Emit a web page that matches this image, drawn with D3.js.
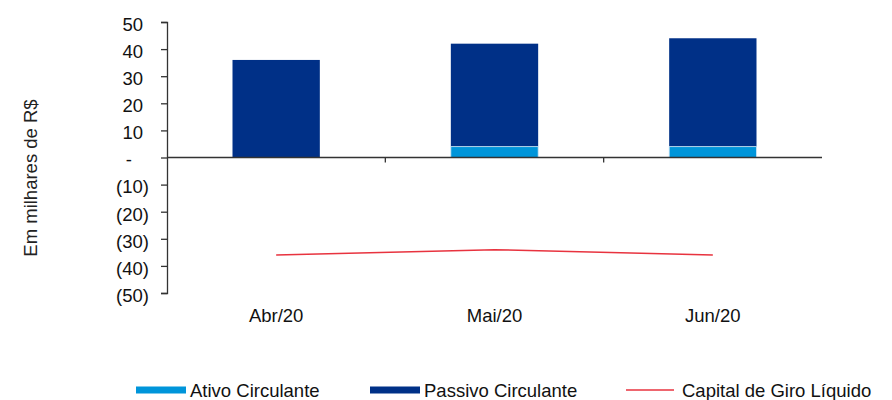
<!DOCTYPE html>
<html>
<head>
<meta charset="utf-8">
<script src="https://cdn.jsdelivr.net/npm/d3@7"></script>
<style>
  body { margin: 0; background: #fff; }
  svg { font-family: "Liberation Sans", Arial, sans-serif; }
</style>
</head>
<body>
<div id="chart"></div>
<script>
// data (R$ mil)
const months = ["Abr/20", "Mai/20", "Jun/20"];
const ativo = [0, 4, 4];
const passivo = [36, 38, 40];
const capitalGiro = [-36, -34, -36];
const yTicks = [50, 40, 30, 20, 10, 0, -10, -20, -30, -40, -50];

const W = 892, H = 400;
const svg = d3.select("#chart").append("svg")
    .attr("width", W)
    .attr("height", H);

const x = d3.scaleBand().domain(months).range([167, 822]).padding(0);
const y = d3.scaleLinear().domain([-50, 50]).range([293, 22]);

const barW = x.bandwidth() * 0.4;

// y axis (accounting style labels)
const yAxis = svg.append("g")
    .attr("transform", "translate(167,0)")
    .call(d3.axisLeft(y).tickValues(yTicks).tickSize(6).tickPadding(9)
        .tickFormat(d => d === 0 ? "-" : d < 0 ? `(${-d})` : d));
yAxis.select(".domain").attr("stroke", "#333").attr("stroke-width", 1.3);
yAxis.selectAll(".tick line").attr("stroke", "#333").attr("stroke-width", 1.3);
yAxis.selectAll("text")
    .style("font-size", "18.5px")
    .attr("fill", "#111")
    .attr("dy", "0.45em")
    .attr("dx", d => d === 0 ? -20 : d < 0 ? -3 : -9);

// x axis at zero, ticks at band boundaries
const xg = svg.append("g").attr("transform", `translate(0,${y(0)})`);
xg.selectAll(".xtick").data(months.slice(1)).enter().append("line")
    .attr("x1", d => x(d)).attr("x2", d => x(d))
    .attr("y1", 0).attr("y2", 5)
    .attr("stroke", "#333").attr("stroke-width", 1.3);

svg.selectAll(".xlab").data(months).enter().append("text")
    .attr("x", d => x(d) + x.bandwidth() / 2)
    .attr("y", 322)
    .attr("text-anchor", "middle")
    .style("font-size", "18.5px")
    .attr("fill", "#111")
    .text(d => d);

// stacked bars
const rows = months.map((m, i) => ({ m, a: ativo[i], p: passivo[i] }));

svg.selectAll(".passivo").data(rows).enter().append("rect")
    .attr("x", d => x(d.m) + (x.bandwidth() - barW) / 2)
    .attr("width", barW)
    .attr("y", d => y(d.a + d.p))
    .attr("height", d => y(d.a) - y(d.a + d.p))
    .attr("fill", "#003087");

svg.selectAll(".ativo").data(rows.filter(d => d.a > 0)).enter().append("rect")
    .attr("x", d => x(d.m) + (x.bandwidth() - barW) / 2)
    .attr("width", barW)
    .attr("y", d => y(d.a))
    .attr("height", d => y(0) - y(d.a))
    .attr("fill", "#0095DA")
    .attr("stroke", "#cfe6f5")
    .attr("stroke-width", 0.8);

// zero line above bars
svg.append("line")
    .attr("x1", 167).attr("x2", 822)
    .attr("y1", y(0)).attr("y2", y(0))
    .attr("stroke", "#333").attr("stroke-width", 1.3);

// capital de giro line
const line = d3.line()
    .x((d, i) => x(months[i]) + x.bandwidth() / 2)
    .y(d => y(d));
svg.append("path")
    .datum(capitalGiro)
    .attr("d", line)
    .attr("fill", "none")
    .attr("stroke", "#E8333F")
    .attr("stroke-width", 1.5);

// y title
svg.append("text")
    .attr("transform", "translate(37,178) rotate(-90)")
    .attr("text-anchor", "middle")
    .style("font-size", "18.5px")
    .attr("fill", "#222")
    .text("Em milhares de R$");

// legend
const legend = [
    { name: "Ativo Circulante", color: "#0095DA", type: "rect", x: 136 },
    { name: "Passivo Circulante", color: "#003087", type: "rect", x: 370 },
    { name: "Capital de Giro Líquido", color: "#E8333F", type: "line", x: 626 }
];
const lg = svg.selectAll(".lg").data(legend).enter().append("g")
    .attr("transform", d => `translate(${d.x},390)`);
lg.filter(d => d.type === "rect").append("rect")
    .attr("x", 0).attr("y", -3.5).attr("width", 50).attr("height", 7)
    .attr("fill", d => d.color);
lg.filter(d => d.type === "line").append("line")
    .attr("x1", 0).attr("x2", 48)
    .attr("stroke", d => d.color).attr("stroke-width", 1.5);
lg.append("text")
    .attr("x", d => d.type === "line" ? 56 : 54).attr("y", 6.5)
    .style("font-size", "18.5px")
    .attr("fill", "#111")
    .text(d => d.name);
</script>
</body>
</html>
